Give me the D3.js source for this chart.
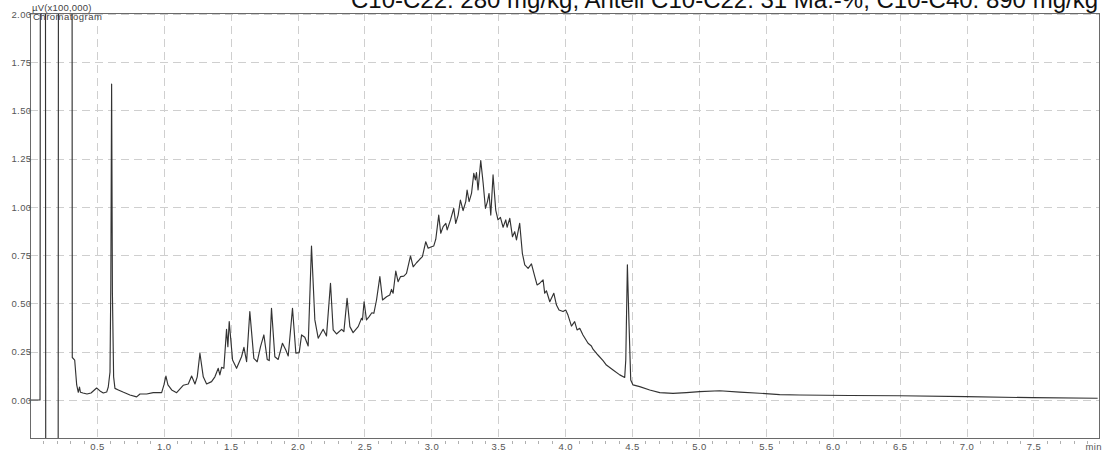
<!DOCTYPE html>
<html>
<head>
<meta charset="utf-8">
<script src="https://cdn.jsdelivr.net/npm/d3@7"></script>
<style>
  html, body { margin: 0; padding: 0; background: #fff; }
  svg { display: block; }
  text { font-family: "Liberation Sans", Arial, sans-serif; }
</style>
</head>
<body>
<svg id="chart" width="1102" height="452"></svg>
<script>
// ---- data (retention time in min, signal in µV x100,000) ----
const times = [
  0, 0.075, 0.078, 0.115, 0.118, 0.210, 0.213, 0.314, 0.316, 0.334, 0.349, 0.361, 0.370, 0.377, 0.396, 0.426, 0.456, 0.498, 0.523, 0.548, 0.573, 0.585, 0.598,
  0.604, 0.610, 0.616, 0.625, 0.635, 0.660, 0.695, 0.747, 0.797, 0.822, 0.872, 0.921, 0.984, 1.001, 1.016, 1.031, 1.059, 1.096, 1.145, 1.183, 1.208, 1.233,
  1.250, 1.270, 1.295, 1.320, 1.357, 1.382, 1.407, 1.419, 1.432, 1.449, 1.469, 1.479, 1.489, 1.514, 1.544, 1.581, 1.599, 1.619, 1.643, 1.673, 1.698, 1.723,
  1.748, 1.773, 1.788, 1.805, 1.830, 1.855, 1.887, 1.912, 1.930, 1.962, 1.987, 2.012, 2.030, 2.054, 2.079, 2.104, 2.129, 2.154, 2.191, 2.216, 2.246, 2.266,
  2.291, 2.329, 2.346, 2.370, 2.391, 2.415, 2.453, 2.478, 2.485, 2.497, 2.515, 2.535, 2.555, 2.570, 2.590, 2.615, 2.635, 2.665, 2.689, 2.702, 2.714, 2.734,
  2.751, 2.769, 2.794, 2.814, 2.844, 2.864, 2.889, 2.913, 2.933, 2.958, 2.976, 3.001, 3.018, 3.033, 3.055, 3.070, 3.088, 3.108, 3.118, 3.143, 3.167, 3.182,
  3.200, 3.217, 3.237, 3.257, 3.267, 3.282, 3.300, 3.317, 3.329, 3.337, 3.349, 3.369, 3.387, 3.404, 3.419, 3.431, 3.444, 3.461, 3.481, 3.498, 3.516, 3.536,
  3.556, 3.566, 3.586, 3.606, 3.623, 3.636, 3.660, 3.680, 3.698, 3.723, 3.748, 3.773, 3.790, 3.810, 3.835, 3.847, 3.860, 3.885, 3.915, 3.935, 3.954, 3.984,
  4.004, 4.021, 4.047, 4.071, 4.089, 4.109, 4.133, 4.171, 4.196, 4.208, 4.245, 4.283, 4.308, 4.358, 4.408, 4.445, 4.453, 4.465, 4.477, 4.490, 4.507, 4.557,
  4.632, 4.707, 4.806, 4.906, 5.005, 5.155, 5.304, 5.453, 5.603, 5.752, 6.125, 6.499, 6.997, 7.493, 7.980
];
const signal = [
  0, 0, 3.0, 3.0, -1.0, -1.0, 3.0, 3.0, 0.22, 0.207, 0.078, 0.040, 0.067, 0.040, 0.036, 0.031, 0.036, 0.062, 0.047, 0.036, 0.041, 0.067, 0.145,
  0.60, 1.637, 0.55, 0.12, 0.06, 0.052, 0.041, 0.026, 0.016, 0.031, 0.031, 0.038, 0.038, 0.078, 0.124, 0.078, 0.052, 0.038, 0.076, 0.083, 0.124, 0.083,
  0.120, 0.242, 0.120, 0.083, 0.095, 0.120, 0.164, 0.130, 0.169, 0.164, 0.366, 0.276, 0.406, 0.207, 0.164, 0.224, 0.273, 0.198, 0.458, 0.216, 0.198, 0.276,
  0.337, 0.210, 0.204, 0.475, 0.224, 0.210, 0.294, 0.259, 0.228, 0.475, 0.243, 0.245, 0.337, 0.325, 0.280, 0.798, 0.415, 0.320, 0.366, 0.332, 0.605, 0.363,
  0.342, 0.366, 0.354, 0.527, 0.380, 0.349, 0.380, 0.423, 0.415, 0.509, 0.415, 0.432, 0.452, 0.449, 0.518, 0.639, 0.518, 0.535, 0.544, 0.573, 0.553, 0.668,
  0.613, 0.639, 0.642, 0.656, 0.746, 0.690, 0.711, 0.729, 0.743, 0.820, 0.786, 0.794, 0.798, 0.833, 0.958, 0.864, 0.898, 0.915, 0.881, 0.933, 0.993, 0.915,
  0.958, 1.036, 0.981, 1.028, 1.088, 1.028, 1.070, 1.174, 1.140, 1.178, 1.088, 1.240, 1.123, 0.993, 1.028, 1.070, 0.958, 1.166, 0.984, 0.933, 0.946, 0.895,
  0.933, 0.895, 0.941, 0.846, 0.872, 0.829, 0.915, 0.760, 0.700, 0.682, 0.705, 0.639, 0.596, 0.605, 0.622, 0.553, 0.566, 0.509, 0.553, 0.492, 0.466, 0.458,
  0.466, 0.440, 0.383, 0.406, 0.363, 0.371, 0.337, 0.294, 0.280, 0.263, 0.233, 0.204, 0.181, 0.155, 0.130, 0.117, 0.207, 0.700, 0.400, 0.104, 0.078, 0.069,
  0.052, 0.038, 0.034, 0.038, 0.043, 0.048, 0.041, 0.035, 0.028, 0.026, 0.023, 0.022, 0.017, 0.012, 0.009
];
const yTicks = [0.00, 0.25, 0.50, 0.75, 1.00, 1.25, 1.50, 1.75, 2.00];
const xTicks = [0.5, 1.0, 1.5, 2.0, 2.5, 3.0, 3.5, 4.0, 4.5, 5.0, 5.5, 6.0, 6.5, 7.0, 7.5];
const xUnit = "min";
const yUnit = "µV(x100,000)";
const plotName = "Chromatogram";
const title = "C10-C22: 280 mg/kg; Anteil C10-C22: 31 Ma.-%; C10-C40: 890 mg/kg";

// ---- layout ----
const L = 30, R = 1099, T = 13, B = 438;
const svg = d3.select("#chart");
const x = d3.scaleLinear().domain([0, 7.99]).range([L, R]);
const y = d3.scaleLinear().domain([-0.197, 2.005]).range([B, T]);

// grid
const grid = svg.append("g").attr("stroke", "#cfcfcf").attr("stroke-width", 1).attr("stroke-dasharray", "8,5");
grid.selectAll("line.h").data(yTicks).join("line")
  .attr("x1", L).attr("x2", R)
  .attr("y1", d => Math.round(y(d)) + 0.5).attr("y2", d => Math.round(y(d)) + 0.5);
grid.selectAll("line.v").data(xTicks).join("line")
  .attr("y1", T).attr("y2", B)
  .attr("x1", d => Math.round(x(d)) + 0.5).attr("x2", d => Math.round(x(d)) + 0.5);

// minor ticks on x axis
const minor = d3.range(1, 80).map(i => i / 10).filter(v => Math.abs(v * 2 - Math.round(v * 2)) > 1e-6);
svg.append("g").attr("stroke", "#b0b0b0")
  .selectAll("line").data(minor).join("line")
  .attr("x1", d => Math.round(x(d)) + 0.5).attr("x2", d => Math.round(x(d)) + 0.5)
  .attr("y1", B + 3).attr("y2", B + 6);

// curve
svg.append("clipPath").attr("id", "clip").append("rect")
  .attr("x", L).attr("y", T).attr("width", R - L).attr("height", B - T);
const pts = times.map((t, i) => [t, signal[i]]);
svg.append("path")
  .attr("clip-path", "url(#clip)")
  .attr("d", d3.line().x(d => x(d[0])).y(d => y(d[1]))(pts))
  .attr("fill", "none").attr("stroke", "#333").attr("stroke-width", 1.15)
  .attr("stroke-linejoin", "round");

// frame
svg.append("rect").attr("x", L + 0.5).attr("y", T + 0.5).attr("width", R - L).attr("height", B - T)
  .attr("fill", "none").attr("stroke", "#6a6a6a").attr("stroke-width", 1);

// y axis labels
const yAxis = d3.axisLeft(y).tickValues(yTicks).tickFormat(d3.format(".2f")).tickSize(2).tickPadding(0);
const gy = svg.append("g").attr("transform", `translate(${L + 0.5},0)`).call(yAxis);
gy.select(".domain").remove();
gy.selectAll("line").attr("stroke", "#666");
gy.selectAll("text").attr("font-size", 9.5).attr("fill", "#555").attr("font-family", "Liberation Sans, Arial, sans-serif")
  .attr("letter-spacing", 0.4).attr("x", 1);

// x axis labels
const xAxis = d3.axisBottom(x).tickValues(xTicks).tickFormat(d3.format(".1f")).tickSize(0).tickPadding(5);
const gx = svg.append("g").attr("transform", `translate(0,${B})`).call(xAxis);
gx.select(".domain").remove();
gx.selectAll("text").attr("font-size", 9.5).attr("fill", "#555").attr("font-family", "Liberation Sans, Arial, sans-serif")
  .attr("letter-spacing", 0.4);
svg.append("text").attr("x", 1102).attr("y", 450).attr("text-anchor", "end")
  .attr("font-size", 9.5).attr("fill", "#555").attr("letter-spacing", 0.4).text(xUnit);

// corner labels
svg.append("text").attr("x", 32).attr("y", 11).attr("font-size", 9.5).attr("fill", "#444").attr("letter-spacing", 0.2).text(yUnit);
svg.append("text").attr("x", 33).attr("y", 20).attr("font-size", 9.5).attr("fill", "#444").attr("letter-spacing", 0.5).text(plotName);

// title (clipped at top like the reference)
svg.append("text").attr("x", 1098).attr("y", 8).attr("text-anchor", "end")
  .attr("font-size", 24).attr("fill", "#111").text(title);
</script>
</body>
</html>
